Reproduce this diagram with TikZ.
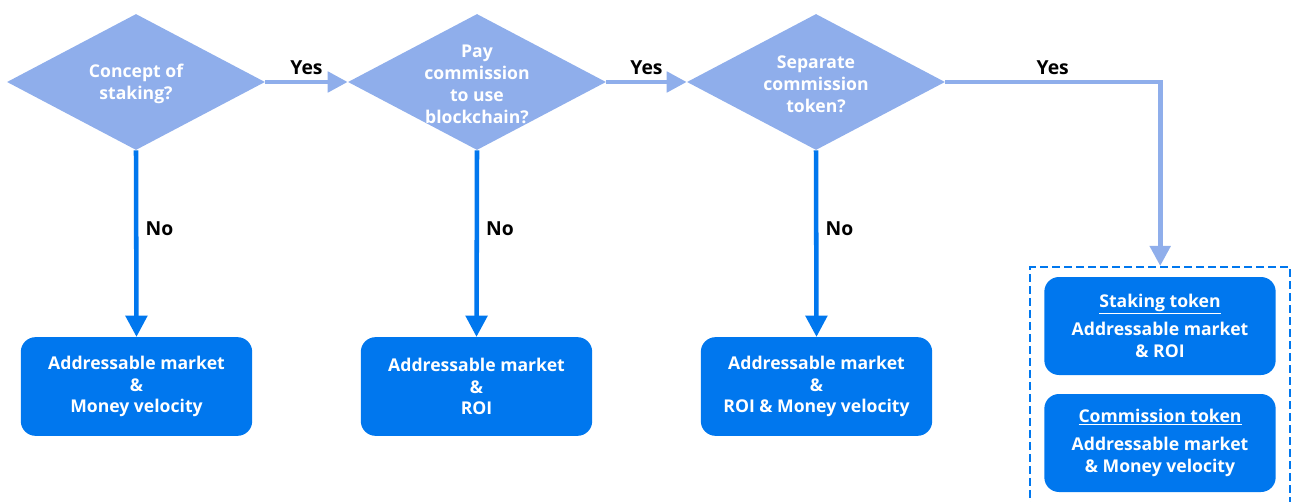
\documentclass[tikz,border=0pt]{standalone}
\usepackage{fontspec}
\setmainfont{Open Sans}
\usetikzlibrary{arrows.meta,positioning,shapes.geometric}
\definecolor{lightblue}{RGB}{143,174,235}
\definecolor{darkblue}{RGB}{0,119,238}
\tikzset{
    %Define style for decisions
    decision/.style={
           diamond,
           fill=lightblue,
           inner sep=0pt,
           minimum width=193.5pt,
           minimum height=102pt},
    dtext/.style={
           align=center,
           text=white,
           yshift=-1.5pt,
           font=\fontsize{13.2pt}{16.5pt}\selectfont\bfseries},
    %Define style for boxes
    result/.style={
           rectangle,
           rounded corners=11pt,
           fill=darkblue,
           text=white,
           align=center,
           minimum width=173.5pt,
           minimum height=74pt,
           font=\fontsize{13.2pt}{16.2pt}\selectfont\bfseries},
    group/.style={
           draw=darkblue, line width=1.8pt,
           dash pattern=on 6pt off 3pt,
           minimum width=195pt,
           minimum height=190pt},
    % Define arrow styles
    yes/.style={
           draw=lightblue, line width=3.6pt,
           -{Triangle[length=15pt,width=15pt]}},
    no/.style={
           draw=darkblue, line width=3.4pt,
           -{Triangle[length=16pt,width=16pt]}},
    lab/.style={
           text=black,
           font=\fontsize{14.5pt}{17pt}\selectfont\bfseries}
}
\begin{document}
\begin{tikzpicture}[x=0.75pt,y=-0.75pt]
\useasboundingbox (0,0) rectangle (1291,502);
 %decisions
\node[decision](d1) at (136,82){};
\node[decision](d2) at (477,82){};
\node[decision](d3) at (816,82){};
\node[dtext] at (d1) {Concept of\\staking?};
\node[dtext] at (d2) {Pay\\commission\\to use\\blockchain?};
\node[dtext] at (d3) {Separate\\commission\\token?};
 %results
\node[result](b1) at (136.5,386.5){Addressable market\\\&\\Money velocity};
\node[result](b2) at (476.5,386.5){Addressable market\\\&\\ROI};
\node[result](b3) at (816.5,386.5){Addressable market\\\&\\ROI \& Money velocity};
\node[group, anchor=north west](g) at (1029,266){};
\node[result, minimum height=73.5pt](s1) at (1160,326){\underline{Staking token}\\[5pt]Addressable market\\\& ROI};
\node[result, minimum height=73.5pt](s2) at (1160,443){\underline{Commission token}\\[5pt]Addressable market\\\& Money velocity};
 %arrows
 \path[every node/.style={lab}]
    (d1) edge[yes] node[above=0pt]{Yes} (d2)
    (d2) edge[yes] node[above=0pt]{Yes} (d3)
    (d1.south) edge[no] node[pos=0.42,right=2pt]{No} (b1.north)
    (d2.south) edge[no] node[pos=0.42,right=2pt]{No} (b2.north)
    (d3.south) edge[no] node[pos=0.42,right=2pt]{No} (b3.north);
 \draw[yes] (d3.east) -| node[pos=0.25,above=0pt,lab]{Yes} (g.north);
\end{tikzpicture}
\end{document}
